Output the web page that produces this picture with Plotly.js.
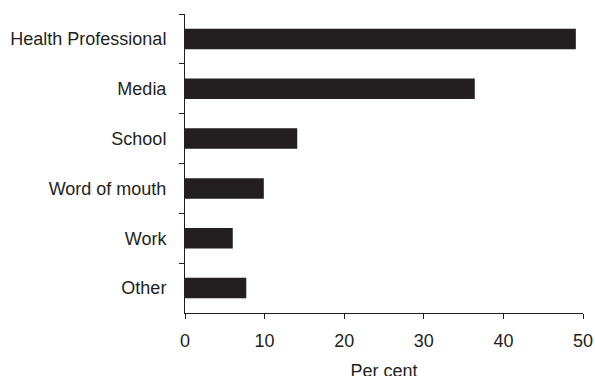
<!DOCTYPE html>
<html>
<head>
<meta charset="utf-8">
<script src="https://cdn.plot.ly/plotly-3.0.1.min.js"></script>
<style>html,body{margin:0;padding:0;background:#fff;overflow:hidden;}#chart{width:595px;height:390px;}</style>
</head>
<body>
<div id="chart"></div>
<script>
const categories = ["Health Professional", "Media", "School", "Word of mouth", "Work", "Other"];
const values = [49.1, 36.4, 14.1, 9.9, 6.0, 7.7];
const xTicks = [0, 10, 20, 30, 40, 50];

const ink = "#231f20";
const trace = {
  type: "bar",
  orientation: "h",
  y: categories,
  x: values,
  marker: {color: ink, line: {width: 0}},
  width: 0.41,
  hoverinfo: "skip"
};
const layout = {
  width: 595, height: 390,
  margin: {l: 185, r: 12, t: 14, b: 77, pad: 0},
  paper_bgcolor: "#fff", plot_bgcolor: "#fff",
  font: {family: "Liberation Sans, Arial, sans-serif", size: 18, color: ink},
  showlegend: false,
  xaxis: {
    range: [0, 50], tickvals: xTicks, ticktext: xTicks.map(String),
    showgrid: false, zeroline: false,
    showline: true, linecolor: ink, linewidth: 1,
    ticks: "outside", ticklen: 5, tickcolor: ink, tickwidth: 1,
    ticklabelstandoff: 6,
    title: {text: "Per cent", standoff: 14, font: {size: 18, color: ink}}
  },
  yaxis: {
    type: "category", categoryorder: "array", categoryarray: categories,
    range: [5.5, -0.5],
    showgrid: false, zeroline: false,
    showline: true, linecolor: ink, linewidth: 1,
    ticks: "outside", tickson: "boundaries", ticklen: 5, tickcolor: ink, tickwidth: 1,
    ticklabelstandoff: 14
  }
};
Plotly.newPlot("chart", [trace], layout, {staticPlot: true, displayModeBar: false});
</script>
</body>
</html>
